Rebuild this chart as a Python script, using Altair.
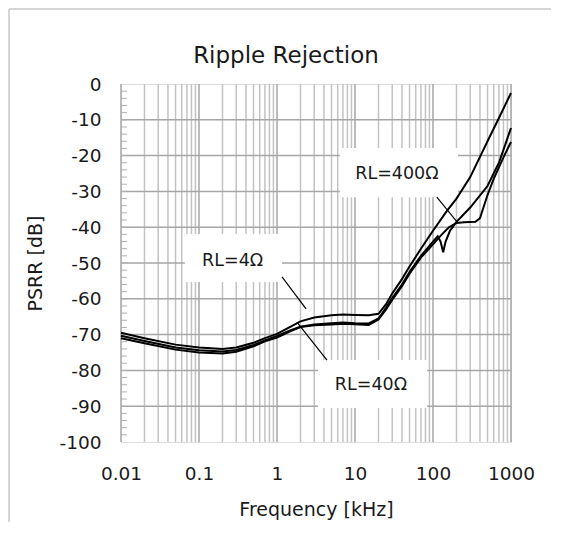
import altair as alt
import pandas as pd

# ---- curve data (frequency in kHz, PSRR in dB) ----
freq_4 = [0.01, 0.02, 0.05, 0.1, 0.2, 0.3, 0.5, 0.7, 1, 1.5, 2, 3, 5, 7, 10, 15, 20,
          25, 30, 40, 50, 70, 100, 150, 200, 300, 500, 700, 1000]
psrr_4 = [-69.5, -71.0, -72.8, -73.6, -74.0, -73.6, -72.3, -71.0, -69.8, -67.8, -66.3,
          -65.2, -64.6, -64.4, -64.5, -64.6, -64.2, -61.5, -58.5, -54.5, -51.0, -46.0,
          -41.0, -35.5, -32.0, -26.0, -16.0, -9.5, -2.5]

freq_40 = [0.01, 0.02, 0.05, 0.1, 0.2, 0.3, 0.5, 0.7, 1, 1.5, 2, 3, 5, 7, 10, 15, 20,
           25, 30, 40, 50, 70, 100, 115, 125, 135, 145, 165, 200, 300, 500, 700, 1000]
psrr_40 = [-70.3, -71.8, -73.6, -74.4, -74.7, -74.3, -72.9, -71.6, -70.4, -68.8, -67.8,
           -67.2, -66.8, -66.6, -66.8, -66.9, -65.5, -62.5, -59.8, -56.0, -52.5, -48.0,
           -44.0, -42.5, -44.0, -47.0, -44.0, -41.0, -38.5, -34.5, -28.5, -22.0, -12.3]

freq_400 = [0.01, 0.02, 0.05, 0.1, 0.2, 0.3, 0.5, 0.7, 1, 1.5, 2, 3, 5, 7, 10, 15, 20,
            25, 30, 40, 50, 70, 100, 130, 160, 200, 250, 350, 400, 500, 600, 800, 1000]
psrr_400 = [-71.0, -72.4, -74.2, -75.0, -75.3, -74.8, -73.3, -71.9, -70.8, -69.0, -67.9,
            -67.4, -67.2, -67.0, -67.1, -67.3, -65.8, -63.0, -60.3, -56.5, -53.0, -48.5,
            -44.8, -42.0, -40.0, -38.8, -38.6, -38.5, -37.5, -31.0, -26.5, -20.5, -16.2]

series_names = ["RL=4Ω", "RL=40Ω", "RL=400Ω"]

# ---- axis / grid values ----
x_major = [0.01, 0.1, 1, 10, 100, 1000]
x_minor = [m * d for d in [0.01, 0.1, 1, 10, 100] for m in [2, 3, 4, 5, 6, 7, 8, 9]]
y_major = [-100, -90, -80, -70, -60, -50, -40, -30, -20, -10, 0]
y_grid = [-90, -80, -70, -60, -50, -40, -30, -20, -10]
y_minor = list(range(-98, 0, 2))

# ---- annotations ----
ann_text = ["RL=4Ω", "RL=400Ω", "RL=40Ω"]
ann_tx = [0.27, 34.5, 16.0]
ann_ty = [-49.5, -25.0, -84.0]
box_x1 = [0.066, 6.4, 3.36]
box_x2 = [1.16, 209, 84]
box_y1 = [-41.9, -17.9, -77.1]
box_y2 = [-55.3, -31.6, -90.5]
line_x1 = [1.16, 112, 1.80]
line_y1 = [-53.9, -31.6, -66.5]
line_x2 = [2.36, 203, 4.37]
line_y2 = [-62.8, -38.5, -77.1]

chart_title = ["Ripple Rejection"]

FONT = "DejaVu Sans"
TXT = "#1a1a1a"

rows = []
for name, fs, vs in zip(series_names, [freq_4, freq_40, freq_400], [psrr_4, psrr_40, psrr_400]):
    for i, (f, v) in enumerate(zip(fs, vs)):
        rows.append({"series": name, "f": f, "v": v, "i": i})
df = pd.DataFrame(rows)

ann = pd.DataFrame({"t": ann_text, "tx": ann_tx, "ty": ann_ty,
                    "bx1": box_x1, "bx2": box_x2, "by1": box_y1, "by2": box_y2,
                    "lx1": line_x1, "ly1": line_y1, "lx2": line_x2, "ly2": line_y2})

xs = alt.Scale(type="log", domain=[0.01, 1000], nice=False)
ys = alt.Scale(domain=[-100, 0], nice=False)

x_axis = alt.Axis(values=x_major, format="~g", grid=False, ticks=False, domain=False,
                  labelFontSize=18.5, labelPadding=22, labelColor=TXT, labelFont=FONT,
                  labelOverlap=False, labelFlush=False,
                  title="Frequency [kHz]", titleFontSize=19, titleFont=FONT,
                  titleFontWeight="normal", titleColor=TXT, titlePadding=18)
y_axis = alt.Axis(values=y_major, grid=False, ticks=False, domain=False,
                  labelFontSize=18.5, labelPadding=20, labelColor=TXT, labelFont=FONT,
                  labelOverlap=False, labelFlush=False, labelExpr="datum.value + ''",
                  title="PSRR [dB]", titleFontSize=19, titleFont=FONT,
                  titleFontWeight="normal", titleColor=TXT, titlePadding=14)


def X(field):
    return alt.X(field, type="quantitative", scale=xs, axis=x_axis)


def Y(field):
    return alt.Y(field, type="quantitative", scale=ys, axis=y_axis)


frame_top = alt.Chart(pd.DataFrame({"a": [0]})).mark_rule(
    color="#c8c8c8", strokeWidth=1.5
).encode(x=alt.value(-112), x2=alt.value(430), y=alt.value(-75))

frame_left = alt.Chart(pd.DataFrame({"a": [0]})).mark_rule(
    color="#c8c8c8", strokeWidth=1.5
).encode(x=alt.value(-112), y=alt.value(-75), y2=alt.value(438))

title_txt = alt.Chart(pd.DataFrame({"t": chart_title})).mark_text(
    font=FONT, fontSize=23, color=TXT, baseline="alphabetic", align="center"
).encode(text="t:N", x=alt.value(165), y=alt.value(-21))

vminor = alt.Chart(pd.DataFrame({"f": x_minor})).mark_rule(
    color="#c3c3c3", strokeWidth=1.5
).encode(x=X("f"))

vmajor = alt.Chart(pd.DataFrame({"f": x_major})).mark_rule(
    color="#a6a6a6", strokeWidth=1.5
).encode(x=X("f"))

hgrid = alt.Chart(pd.DataFrame({"v": y_grid})).mark_rule(
    color="#a6a6a6", strokeWidth=1.5
).encode(y=Y("v"))

yticks = alt.Chart(pd.DataFrame({"v": y_minor})).mark_rule(
    color="#b0b0b0", strokeWidth=1
).encode(y=Y("v"), x=alt.value(0), x2=alt.value(6))

boxes = alt.Chart(ann).mark_rect(fill="white").encode(
    x=X("bx1"), x2="bx2", y=Y("by1"), y2="by2")

callouts = alt.Chart(ann).mark_rule(color="black", strokeWidth=1.2).encode(
    x=X("lx1"), x2="lx2", y=Y("ly1"), y2="ly2")

labels = alt.Chart(ann).mark_text(font=FONT, fontSize=17.5, color=TXT).encode(
    x=X("tx"), y=Y("ty"), text="t:N")

lines = alt.Chart(df).mark_line(color="black", strokeWidth=2).encode(
    x=X("f"), y=Y("v"), detail="series:N", order="i:Q")

chart = alt.layer(frame_top, frame_left, title_txt, vminor, vmajor, hgrid, yticks, boxes,
                  callouts, labels, lines).properties(
    width=390, height=358,
    autosize=alt.AutoSizeParams(type="none"),
    padding={"left": 113, "top": 76, "right": 40, "bottom": 80},
).configure_view(stroke="#bdbdbd", strokeWidth=1.5).configure(background="white")

chart.save("out.html", embed_options={"renderer": "svg", "actions": False})
